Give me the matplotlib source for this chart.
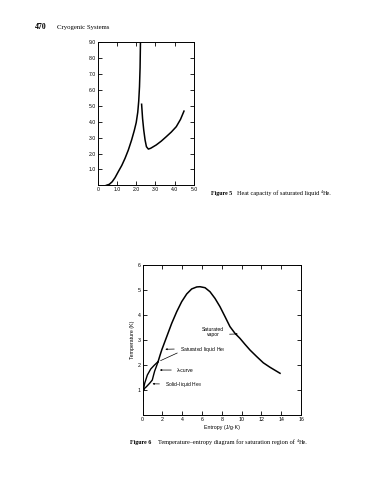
import numpy as np
import matplotlib
matplotlib.use("Agg")
import matplotlib.pyplot as plt

plt.rcParams["font.family"] = ["Liberation Sans", "DejaVu Sans"]
plt.rcParams["mathtext.fontset"] = "custom"
plt.rcParams["mathtext.rm"] = "Liberation Sans"
plt.rcParams["mathtext.it"] = "Liberation Sans:italic"

# Figure 5: heat capacity of saturated liquid 4He (J/g K) vs T (K)
t_below = [0.45, 0.60, 0.75, 0.90, 1.07, 1.25, 1.42, 1.59, 1.76, 1.90, 2.00, 2.08, 2.13, 2.17, 2.20, 2.22]
c_below = [0.0, 0.06, 0.22, 0.48, 0.86, 1.25, 1.70, 2.22, 2.85, 3.45, 3.95, 4.60, 5.30, 6.20, 7.40, 9.0]
t_above = [2.28, 2.33, 2.39, 2.46, 2.53, 2.63, 2.75, 3.04, 3.30, 3.56, 3.82, 4.08, 4.30, 4.48]
c_above = [5.10, 4.20, 3.48, 2.85, 2.43, 2.28, 2.33, 2.54, 2.78, 3.06, 3.35, 3.69, 4.15, 4.67]
fig5_xticks = [0, 1, 2, 3, 4, 5]
fig5_xlabels = ["0", "1.0", "2.0", "3.0", "4.0", "5.0"]
fig5_yticks = [1, 2, 3, 4, 5, 6, 7, 8, 9]
fig5_ylabels = ["1.0", "2.0", "3.0", "4.0", "5.0", "6.0", "7.0", "8.0", "9.0"]

# Figure 6: T-S diagram, entropy (J/g K) vs temperature (K)
s_dome = [1.55, 1.75, 1.92, 2.43, 2.93, 3.44, 3.94, 4.45, 4.95, 5.46, 5.79, 6.30, 6.80, 7.31,
          7.81, 8.32, 8.82, 9.33, 9.83, 10.34, 10.85, 11.52, 12.19, 12.87, 13.88]
t_dome = [2.12, 2.38, 2.59, 3.13, 3.66, 4.13, 4.53, 4.84, 5.04, 5.12, 5.13, 5.09, 4.93, 4.66,
          4.33, 3.93, 3.53, 3.26, 3.06, 2.82, 2.59, 2.33, 2.08, 1.90, 1.66]
s_sat_liq = [0.0, 0.03, 0.20, 0.37, 0.70, 0.97, 1.10, 1.21, 1.38, 1.55]
t_sat_liq = [0.55, 0.92, 1.06, 1.12, 1.26, 1.39, 1.59, 1.75, 1.93, 2.12]
s_melt = [0.0, 0.03, 0.20, 0.47, 0.81, 1.14, 1.48, 1.55]
t_melt = [0.55, 0.92, 1.26, 1.59, 1.83, 1.97, 2.10, 2.12]
fig6_xticks = [0, 2, 4, 6, 8, 10, 12, 14, 16]
fig6_yticks = [1, 2, 3, 4, 5, 6]

W, H = 388, 480
fig = plt.figure(figsize=(W / 100, H / 100), dpi=100)
renderer = fig.canvas.get_renderer()


def px_axes(l, t, r, b):
    return fig.add_axes([l / W, 1 - b / H, (r - l) / W, (b - t) / H])


def style(ax, fs):
    ax.tick_params(direction="in", length=3, width=0.6, top=True, right=True,
                   labelsize=fs, pad=1.5)
    for sp in ax.spines.values():
        sp.set_linewidth(0.7)


# top chart
ax1 = px_axes(97.7, 42.3, 194, 185.3)
ax1.plot(t_below, c_below, color="black", lw=1.1)
ax1.plot(t_above, c_above, color="black", lw=1.1)
ax1.set_xlim(0, 5)
ax1.set_ylim(0, 9)
ax1.set_xticks(fig5_xticks, fig5_xlabels)
ax1.set_yticks(fig5_yticks, fig5_ylabels)
style(ax1, 3.7)

# bottom chart
ax2 = px_axes(142.7, 265, 301, 414.7)
ax2.plot(s_dome, t_dome, color="black", lw=1.1)
ax2.plot(s_sat_liq, t_sat_liq, color="black", lw=1.0)
ax2.plot(s_melt, t_melt, color="black", lw=1.0)
ax2.set_xlim(0, 16)
ax2.set_ylim(0, 6)
ax2.set_xticks(fig6_xticks)
ax2.set_yticks(fig6_yticks)
style(ax2, 3.8)
ax2.set_xlabel("Entropy (J/g·K)", fontsize=3.8, labelpad=2)
ax2.set_ylabel("Temperature (K)", fontsize=3.8, labelpad=2)

arr = dict(arrowstyle="-|>,head_length=0.25,head_width=0.12", color="black", lw=0.5)
ax2.annotate("Saturated\nvapor", xy=(9.9, 3.24), xytext=(7.1, 3.3), fontsize=3.6,
             ha="center", va="center", linespacing=1.0,
             arrowprops=dict(arr, relpos=(1.0, 0.3)))
ax2.annotate("Saturated liquid He$_\\mathrm{I}$", xy=(2.0, 2.62), xytext=(3.75, 2.6),
             fontsize=3.6, ha="left", va="center",
             arrowprops=dict(arr, relpos=(0.0, 0.6)))
ax2.annotate("", xy=(1.55, 2.12), xytext=(3.75, 2.52),
             arrowprops=dict(arrowstyle="-", color="black", lw=0.5))
ax2.annotate("λ‑curve", xy=(1.45, 1.79), xytext=(3.45, 1.79), fontsize=3.6,
             ha="left", va="center", arrowprops=dict(arr, relpos=(0.0, 0.5)))
ax2.annotate("Solid–liquid He$_\\mathrm{II}$", xy=(0.7, 1.24), xytext=(2.25, 1.23),
             fontsize=3.6, ha="left", va="center",
             arrowprops=dict(arr, relpos=(0.0, 0.5)))

# page text
serif = ["Liberation Serif", "DejaVu Serif"]


def caption(x, y, bold, body, x_body):
    fig.text(x / W, 1 - y / H, bold, fontsize=4.3, fontweight="bold", family=serif, va="baseline")
    t = fig.text(x_body / W, 1 - y / H, body, fontsize=4.5, family=serif, va="baseline")
    x_end = t.get_window_extent(renderer).x1
    s = fig.text((x_end + 1.6) / W, 1 - (y - 2.2) / H, "4", fontsize=3.0, family=serif, va="baseline")
    x_end = s.get_window_extent(renderer).x1
    fig.text(x_end / W, 1 - y / H, "He.", fontsize=4.5, family=serif, va="baseline")


fig.text(35 / W, 1 - 29 / H, "470", fontsize=5.6, fontweight="bold", family=serif, va="baseline")
fig.text(57.3 / W, 1 - 29 / H, "Cryogenic Systems", fontsize=4.9, family=serif, va="baseline")
caption(211, 195, "Figure 5", "Heat capacity of saturated liquid", 237)
caption(130, 444, "Figure 6", "Temperature–entropy diagram for saturation region of", 158)

fig.savefig("out.png", dpi=100)
